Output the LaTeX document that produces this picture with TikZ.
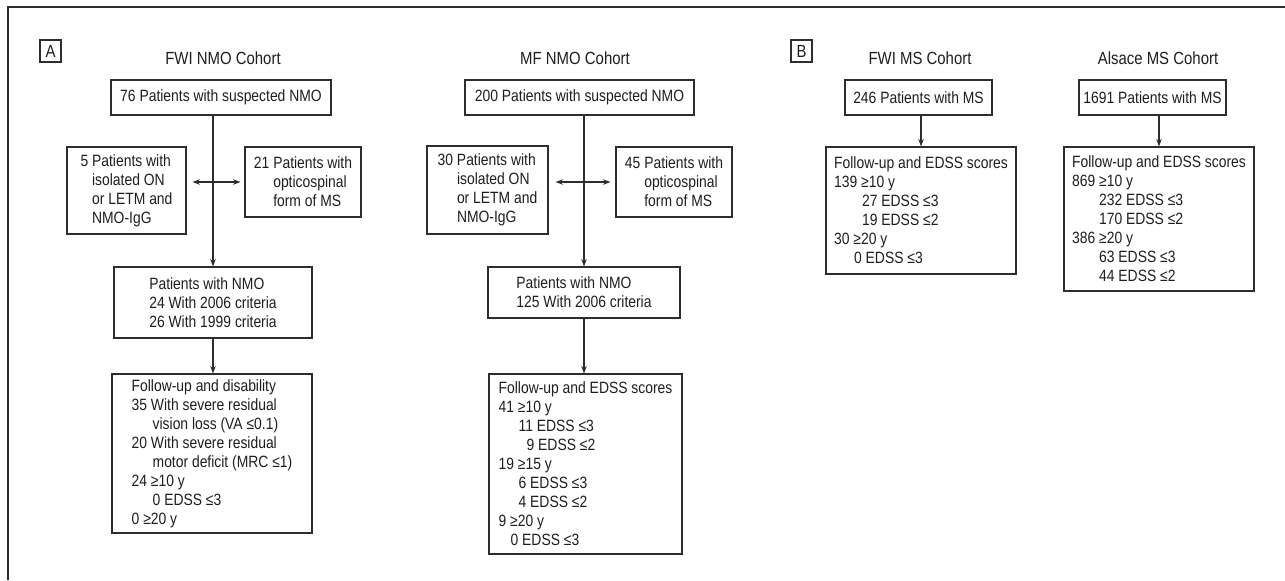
\documentclass[tikz,border=0pt]{standalone}
\usepackage{fontspec}
\setmainfont{Liberation Sans}[FakeStretch=0.85]
\usepackage{tikz}
\usetikzlibrary{arrows.meta,positioning}
\definecolor{fcline}{RGB}{45,45,45}
\definecolor{fctext}{RGB}{30,30,30}
\newcommand{\boxfont}{\fontsize{9.3}{10.8}\selectfont}
\newcommand{\headfont}{\fontsize{10}{12}\selectfont}

\begin{document}
\begin{tikzpicture}[
  pbox/.style={draw=fcline, line width=0.6pt, font=\boxfont, text=fctext,
    inner sep=0pt, minimum height=0.7cm, align=center},
  lbox/.style={draw=fcline, line width=0.6pt, font=\boxfont, text=fctext,
    inner sep=0pt, align=left},
  head/.style={font=\headfont, text=fctext},
  tag/.style={draw=fcline, line width=0.6pt, font=\headfont, text=fctext,
    minimum width=0.42cm, minimum height=0.44cm, inner sep=0pt},
  arr/.style={-{Stealth[length=1.5mm, width=1.1mm]}, line width=0.6pt, fcline},
  dblarr/.style={{Stealth[length=1.5mm, width=1.1mm]}-{Stealth[length=1.5mm, width=1.1mm]},
    line width=0.6pt, fcline}]
\useasboundingbox (0,0) rectangle (25.7,-11.6);
% frame
\draw[fcline, line width=0.75pt] (0.16,-11.6) |- (25.7,-0.14);
% Panel A: FWI NMO
\node[tag] (taga) at (1.01,-1.02) {A};
\node[head] (fwititle) at (4.46,-1.16) {FWI NMO Cohort};
\node[pbox, minimum width=4.4cm] (fwi76) at (4.42,-1.95) {76 Patients with suspected NMO};
\node[lbox, minimum width=2.38cm, minimum height=1.74cm] (fwiiso) at (2.53,-3.81)
  {5 Patients with\\\phantom{5\ }isolated ON\\\phantom{5\ }or LETM and\\\phantom{5\ }NMO-IgG};
\node[lbox, minimum width=2.32cm, minimum height=1.4cm] (fwims) at (6.06,-3.64)
  {21 Patients with\\\phantom{21\ }opticospinal\\\phantom{21\ }form of MS};
\node[lbox, minimum width=3.96cm, minimum height=1.42cm] (fwinmo) at (4.26,-6.05)
  {Patients with NMO\\24 With 2006 criteria\\26 With 1999 criteria};
\node[lbox, minimum width=4.0cm, minimum height=3.18cm] (fwifu) at (4.24,-9.07)
  {Follow-up and disability\\
   35 With severe residual\\\hspace*{0.42cm}vision loss (VA ≤0.1)\\
   20 With severe residual\\\hspace*{0.42cm}motor deficit (MRC ≤1)\\
   24 ≥10 y\\\hspace*{0.42cm}0 EDSS ≤3\\
   0 ≥20 y};
\draw[arr] (fwinmo.north |- fwi76.south) -- (fwinmo.north);
\draw[dblarr, shorten <=0.12cm, shorten >=0.08cm] (fwiiso.east |- fwims.west) -- (fwims.west);
\draw[arr] (fwinmo.south) -- (fwinmo.south |- fwifu.north);
% Panel A: MF NMO
\node[head] (mftitle) at (11.5,-1.16) {MF NMO Cohort};
\node[pbox, minimum width=4.58cm] (mf200) at (11.59,-1.95) {200 Patients with suspected NMO};
\node[lbox, minimum width=2.42cm, minimum height=1.76cm] (mfiso) at (9.75,-3.8)
  {30 Patients with\\\phantom{30\ }isolated ON\\\phantom{30\ }or LETM and\\\phantom{30\ }NMO-IgG};
\node[lbox, minimum width=2.32cm, minimum height=1.4cm] (mfms) at (13.48,-3.64)
  {45 Patients with\\\phantom{45\ }opticospinal\\\phantom{45\ }form of MS};
\node[lbox, minimum width=3.84cm, minimum height=1.02cm] (mfnmo) at (11.68,-5.85)
  {Patients with NMO\\125 With 2006 criteria};
\node[lbox, minimum width=3.86cm, minimum height=3.6cm] (mffu) at (11.71,-9.28)
  {Follow-up and EDSS scores\\
   41 ≥10 y\\\hspace*{0.4cm}11 EDSS ≤3\\\hspace*{0.56cm}9 EDSS ≤2\\
   19 ≥15 y\\\hspace*{0.4cm}6 EDSS ≤3\\\hspace*{0.4cm}4 EDSS ≤2\\
   9 ≥20 y\\\hspace*{0.24cm}0 EDSS ≤3};
\draw[arr] (mfnmo.north |- mf200.south) -- (mfnmo.north);
\draw[dblarr, shorten <=0.14cm, shorten >=0.1cm] (mfiso.east |- mfms.west) -- (mfms.west);
\draw[arr] (mfnmo.south) -- (mfnmo.south |- mffu.north);
% Panel B: FWI MS
\node[tag] (tagb) at (16.03,-1.02) {B};
\node[head] (mstitle) at (18.4,-1.16) {FWI MS Cohort};
\node[pbox, minimum width=2.94cm] (ms246) at (18.37,-1.95) {246 Patients with MS};
\node[lbox, minimum width=3.8cm, minimum height=2.54cm] (msfu) at (18.42,-4.21)
  {Follow-up and EDSS scores\\
   139 ≥10 y\\\hspace*{0.56cm}27 EDSS ≤3\\\hspace*{0.56cm}19 EDSS ≤2\\
   30 ≥20 y\\\hspace*{0.4cm}0 EDSS ≤3};
\draw[arr] (msfu.north |- ms246.south) -- (msfu.north);
% Panel B: Alsace MS
\node[head] (alstitle) at (23.16,-1.16) {Alsace MS Cohort};
\node[pbox, minimum width=2.94cm] (als1691) at (23.05,-1.95) {1691 Patients with MS};
\node[lbox, minimum width=3.8cm, minimum height=2.88cm] (alsfu) at (23.18,-4.38)
  {Follow-up and EDSS scores\\
   869 ≥10 y\\\hspace*{0.54cm}232 EDSS ≤3\\\hspace*{0.54cm}170 EDSS ≤2\\
   386 ≥20 y\\\hspace*{0.54cm}63 EDSS ≤3\\\hspace*{0.54cm}44 EDSS ≤2};
\draw[arr] (alsfu.north |- als1691.south) -- (alsfu.north);
\end{tikzpicture}
\end{document}
